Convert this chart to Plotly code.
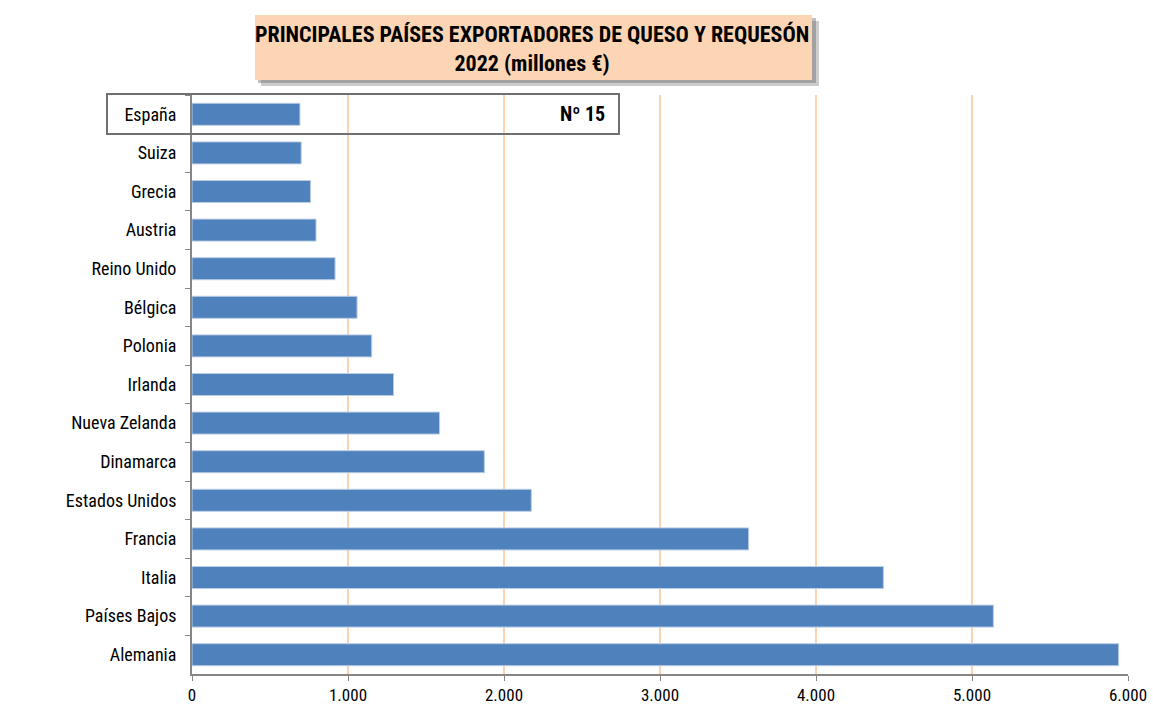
import plotly.graph_objects as go

paises = ["España", "Suiza", "Grecia", "Austria", "Reino Unido", "Bélgica", "Polonia",
          "Irlanda", "Nueva Zelanda", "Dinamarca", "Estados Unidos", "Francia", "Italia",
          "Países Bajos", "Alemania"]
valores = [692, 700, 760, 795, 917, 1058, 1152, 1292, 1587, 1874, 2175, 3568, 4432, 5137, 5940]
tick_vals = [0, 1000, 2000, 3000, 4000, 5000, 6000]

FONT = "Liberation Sans Narrow, Roboto Condensed, Arial Narrow, sans-serif"

L, R, T, B = 192, 1128, 95, 674
PW, PH = R - L, B - T


def px_x(px):
    return (px - L) / PW


def px_y(py):
    return (B - py) / PH


fig = go.Figure()
fig.add_trace(go.Bar(
    y=paises, x=valores, orientation="h",
    marker=dict(color="#4F81BD", line=dict(color="#B9CDE5", width=1)),
    width=0.57, hoverinfo="skip",
))

fig.update_layout(
    width=1153, height=715,
    margin=dict(l=L, r=1153 - R, t=T, b=715 - B),
    paper_bgcolor="white", plot_bgcolor="white",
    separators=",.",
    showlegend=False,
    font=dict(family=FONT, size=18, color="#000000"),
    xaxis=dict(
        range=[0, 6000], tickvals=tick_vals, tickformat=",d",
        showgrid=True, gridcolor="#FBD3B2", gridwidth=1.5,
        showline=True, linecolor="#868686", linewidth=2,
        ticks="outside", ticklen=5, tickcolor="#868686", tickwidth=1,
        tickfont=dict(family=FONT, size=17), zeroline=False,
        automargin=False,
    ),
    yaxis=dict(
        categoryorder="array", categoryarray=paises, autorange="reversed",
        showline=True, linecolor="#868686", linewidth=2,
        ticks="outside", ticklen=5, tickcolor="#868686", tickson="boundaries",
        tickfont=dict(family=FONT, size=18), showgrid=False,
        ticklabelstandoff=10, automargin=False,
    ),
)

# Title box with shadow
fig.add_shape(type="rect", xref="paper", yref="paper",
              x0=px_x(261), x1=px_x(819), y0=px_y(86), y1=px_y(21),
              fillcolor="rgba(110,110,110,0.35)", line=dict(width=0), layer="above")
fig.add_shape(type="rect", xref="paper", yref="paper",
              x0=px_x(258), x1=px_x(816), y0=px_y(83), y1=px_y(18),
              fillcolor="rgba(110,110,110,0.45)", line=dict(width=0), layer="above")
fig.add_shape(type="rect", xref="paper", yref="paper",
              x0=px_x(255), x1=px_x(812), y0=px_y(80), y1=px_y(15),
              fillcolor="#FCD5B4", line=dict(width=0), layer="above")
fig.add_annotation(xref="paper", yref="paper",
                   x=px_x(532), y=px_y(48),
                   text="<b>PRINCIPALES PAÍSES EXPORTADORES DE QUESO Y REQUESÓN<br>2022 (millones €)</b>",
                   showarrow=False, font=dict(family=FONT, size=22, color="#000000"),
                   align="center", xanchor="center", yanchor="middle")

# España highlight box
fig.add_shape(type="rect", xref="paper", yref="paper",
              x0=px_x(107), x1=px_x(619), y0=px_y(134), y1=px_y(94),
              fillcolor="rgba(0,0,0,0)", line=dict(color="#707070", width=2), layer="above")
fig.add_annotation(xref="paper", yref="paper",
                   x=px_x(607), y=px_y(114),
                   text="<b>Nº 15</b>", showarrow=False,
                   font=dict(family=FONT, size=20, color="#000000"),
                   xanchor="right", yanchor="middle")

fig.write_html("out.html", config={"displayModeBar": False},
               post_script="document.body.style.margin='0px';")
